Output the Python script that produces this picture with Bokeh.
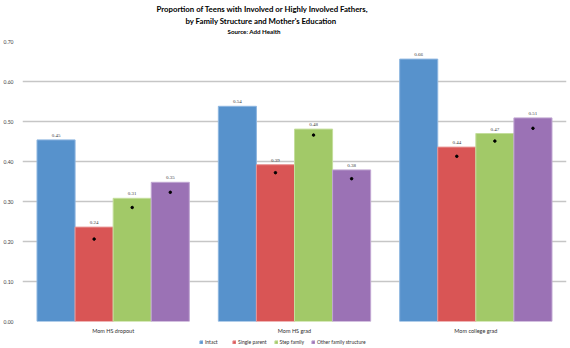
from bokeh.plotting import figure
from bokeh.layouts import column
from bokeh.models import (ColumnDataSource, FactorRange, Range1d, Title, Legend, LegendItem,
                          LabelSet, FixedTicker, NumeralTickFormatter)
from bokeh.transform import dodge
from bokeh.embed import file_html
from bokeh.resources import INLINE

groups = ["Mom HS dropout", "Mom HS grad", "Mom college grad"]
series = ["Intact", "Single parent", "Step family", "Other family structure"]
intact = [0.454, 0.538, 0.656]
single_parent = [0.236, 0.392, 0.436]
step_family = [0.308, 0.481, 0.470]
other_structure = [0.348, 0.379, 0.509]
single_dot = [0.206, 0.372, 0.413]
step_dot = [0.285, 0.466, 0.451]
other_dot = [0.323, 0.357, 0.483]
y_ticks = [0.0, 0.1, 0.2, 0.3, 0.4, 0.5, 0.6, 0.7]

colors = ["#5792cc", "#d95555", "#a2c968", "#9b72b5"]
edges = ["#8db6e0", "#e89494", "#c4de9c", "#c0a6d2"]
dots = [None, single_dot, step_dot, other_dot]
offsets = [-0.315, -0.105, 0.105, 0.315]
bar_w = 0.21

src = ColumnDataSource(dict(
    g=groups,
    intact=intact, single=single_parent, step=step_family, other=other_structure,
    intact_l=["%.2f" % v for v in intact],
    single_l=["%.2f" % v for v in single_parent],
    step_l=["%.2f" % v for v in step_family],
    other_l=["%.2f" % v for v in other_structure],
    single_d=single_dot, step_d=step_dot, other_d=other_dot,
))
keys = ["intact", "single", "step", "other"]

p = figure(width=570, height=336, x_range=FactorRange(factors=groups), y_range=Range1d(0, 0.7),
           output_backend="svg", toolbar_location=None, title=None,
           min_border_left=15, min_border_right=4, min_border_top=41, min_border_bottom=15)
p.outline_line_color = None
p.background_fill_color = "white"

for k, col, ed, off, d in zip(keys, colors, edges, offsets, dots):
    p.vbar(x=dodge("g", off, range=p.x_range), top=k, width=bar_w, source=src,
           fill_color=col, line_color=ed, line_width=1)
    if d is not None:
        p.scatter(x=dodge("g", off, range=p.x_range), y=k + "_d", source=src,
                  size=2.5, marker="circle", fill_color="black", line_color="black")
    p.add_layout(LabelSet(x=dodge("g", off, range=p.x_range), y=k, text=k + "_l", source=src,
                          text_align="center", text_baseline="bottom", y_offset=3,
                          text_font_size="5px", text_color="#404040", text_font="Lato"))

p.xgrid.visible = False
p.ygrid.ticker = FixedTicker(ticks=y_ticks)
p.ygrid.grid_line_color = "#c6c6c6"
p.ygrid.grid_line_width = 1.5

p.yaxis.ticker = FixedTicker(ticks=y_ticks)
p.yaxis.formatter = NumeralTickFormatter(format="0.00")
p.yaxis.axis_line_color = None
p.yaxis.major_tick_line_color = None
p.yaxis.minor_tick_line_color = None
p.yaxis.major_label_text_font_size = "5px"
p.yaxis.major_label_text_color = "#404040"
p.yaxis.major_label_text_font = "Lato"
p.yaxis.major_label_standoff = 3

p.xaxis.axis_line_color = None
p.xaxis.major_tick_line_color = None
p.xaxis.minor_tick_line_color = None
p.xaxis.major_label_text_font_size = "5.5px"
p.xaxis.major_label_text_color = "#303030"
p.xaxis.major_label_text_font = "Lato"
p.xaxis.major_label_standoff = 0

# titles: stacked upward from the frame (first added is closest)
p.add_layout(Title(text=" ", align="left", standoff=0, text_font="Lato",
                   text_font_size="4.3px"), "above")
p.add_layout(Title(text="Source: Add Health", align="left", offset=205, standoff=0,
                   text_font="Lato", text_font_size="6.2px", text_font_style="bold",
                   text_color="#000000"), "above")
p.add_layout(Title(text="by Family Structure and Mother's Education", align="left", offset=163,
                   standoff=0, text_font="Lato", text_font_size="7.8px", text_font_style="bold",
                   text_color="#000000"), "above")
p.add_layout(Title(text="Proportion of Teens with Involved or Highly Involved Fathers,", align="left",
                   offset=134, standoff=0, text_font="Lato", text_font_size="7.8px",
                   text_font_style="bold", text_color="#000000"), "above")

# legend strip (its bars lie far below the visible range; only the swatches show)
lg = figure(width=570, height=12, x_range=FactorRange(factors=groups), y_range=Range1d(5, 6),
            output_backend="svg", toolbar_location=None, title=None, min_border=0)
lg.outline_line_color = None
lg.axis.visible = False
lg.grid.visible = False
items = []
for k, col, ed, name in zip(keys, colors, edges, series):
    r = lg.vbar(x="g", top=k, width=0.2, source=src, fill_color=col, line_color=ed, line_width=1)
    items.append(LegendItem(label=name, renderers=[r]))
legend = Legend(items=items, orientation="horizontal", location=(177, 3),
                label_text_font_size="5px", label_text_font="Lato", label_text_color="#303030",
                glyph_width=4, glyph_height=4, label_height=5, label_standoff=2,
                spacing=7, padding=0, margin=0, border_line_color=None,
                background_fill_alpha=0)
lg.add_layout(legend, "center")

layout = column(p, lg, spacing=0)
open("out.html", "w").write(file_html(layout, INLINE))
